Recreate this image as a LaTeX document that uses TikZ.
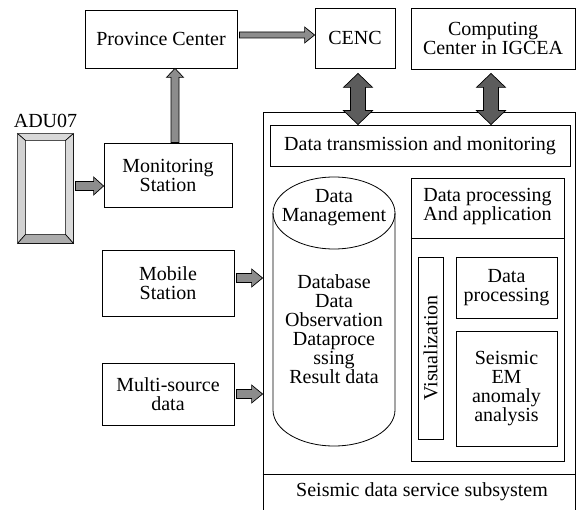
\documentclass[tikz,border=0pt]{standalone}
\usepackage{fontspec}
\setmainfont{Liberation Serif}
\usetikzlibrary{calc}

\definecolor{arrowgray}{gray}{0.55}
\definecolor{arrowdark}{gray}{0.36}

\tikzset{
	box/.style={draw, line width=0.8pt, align=center, inner sep=0pt},
	% a block arrow with one head: half shaft, half head, head length
	fat arrow/.style n args={3}{draw, line width=0.7pt, to path={
		let \p1=($(\tikztotarget)!#3!(\tikztostart)$) in
		($(\tikztostart)!#1!90:(\tikztotarget)$) -- ($(\p1)!#1!90:(\tikztotarget)$)
		-- ($(\p1)!#2!90:(\tikztotarget)$) -- (\tikztotarget)
		-- ($(\p1)!#2!-90:(\tikztotarget)$) -- ($(\p1)!#1!-90:(\tikztotarget)$)
		-- ($(\tikztostart)!#1!-90:(\tikztotarget)$) -- cycle}},
	% the same with a head at both ends
	fat double/.style n args={3}{draw, line width=0.7pt, to path={
		let \p1=($(\tikztotarget)!#3!(\tikztostart)$), \p2=($(\tikztostart)!#3!(\tikztotarget)$) in
		(\tikztostart) -- ($(\p2)!#2!90:(\tikztotarget)$) -- ($(\p2)!#1!90:(\tikztotarget)$)
		-- ($(\p1)!#1!90:(\tikztotarget)$) -- ($(\p1)!#2!90:(\tikztotarget)$) -- (\tikztotarget)
		-- ($(\p1)!#2!-90:(\tikztotarget)$) -- ($(\p1)!#1!-90:(\tikztotarget)$)
		-- ($(\p2)!#1!-90:(\tikztotarget)$) -- ($(\p2)!#2!-90:(\tikztotarget)$) -- cycle}},
}

\begin{document}
\begin{tikzpicture}[x=1pt, y=-1pt, every node/.style={font=\fontsize{20}{19}\selectfont}]
	\useasboundingbox (0,0) rectangle (577,510);
	% centres on top
	\node[box, minimum width=152, minimum height=58] (prov) at (161,39) {Province Center};
	\node[box, minimum width=80, minimum height=60] (cenc) at (355,38) {CENC};
	\node[box, minimum width=164, minimum height=61] (igcea) at (493,38.5) {Computing\\Center in IGCEA};
	% stations and sources on the left
	\node[box, minimum width=128, minimum height=64] (monit) at (168,175) {Monitoring\\Station};
	\node[box, minimum width=132, minimum height=66] (mobile) at (168,283) {Mobile\\Station};
	\node[box, minimum width=132, minimum height=62] (multi) at (168,394) {Multi-source\\data};
	% the ADU07 instrument, a bevelled frame
	\node[anchor=south] (adulabel) at (45.5,131) {ADU07};
	\node[draw, line width=0.8pt, minimum width=55, minimum height=109, inner sep=0pt] (adu) at (45.5,188.5) {};
	\coordinate (inw) at ([shift={(8,7)}]adu.north west);
	\coordinate (ine) at ([shift={(-8,7)}]adu.north east);
	\coordinate (ise) at ([shift={(-8,-9)}]adu.south east);
	\coordinate (isw) at ([shift={(8,-9)}]adu.south west);
	\filldraw[fill=gray!30, line width=0.6pt] (adu.north west) -- (adu.north east) -- (ine) -- (inw) -- cycle;
	\filldraw[fill=gray!35, line width=0.6pt] (adu.north west) -- (inw) -- (isw) -- (adu.south west) -- cycle;
	\filldraw[fill=gray!30, line width=0.6pt] (adu.north east) -- (ine) -- (ise) -- (adu.south east) -- cycle;
	\filldraw[fill=gray!65, line width=0.6pt] (adu.south west) -- (isw) -- (ise) -- (adu.south east) -- cycle;
	% the service subsystem
	\node[draw, line width=0.8pt, minimum width=312, minimum height=400, inner sep=0pt] (serv) at (419,312) {};
	\draw[line width=0.8pt] (serv.west |- 0,474) -- (serv.east |- 0,474);
	\node (servlabel) at (422,492) {Seismic data service subsystem};
	\node[box, minimum width=300, minimum height=41] (trans) at (420,145.5) {Data transmission and monitoring};
	% data management store
	\draw[line width=0.8pt, fill=white] (273,213) -- (273,410) arc[start angle=180, end angle=0, x radius=61, y radius=36] -- (395,213);
	\draw[line width=0.8pt] (334,213) ellipse [x radius=61, y radius=36];
	\node[align=center] (dmtitle) at (334,208) {Data\\Management};
	\node[align=center] (dmlist) at (334,329) {Database\\Data\\Observation\\Dataproce\\ssing\\Result data};
	% processing and application
	\node[draw, line width=0.8pt, minimum width=153, minimum height=283, inner sep=0pt] (appl) at (487.5,319.5) {};
	\draw[line width=0.8pt] (appl.west |- 0,238) -- (appl.east |- 0,238);
	\node[align=center] (appltitle) at (487.5,207) {Data processing\\And application};
	\node[box, rotate=90, minimum width=182, minimum height=25] (vis) at (430.5,348) {Visualization};
	\node[box, minimum width=101, minimum height=61] (dproc) at (506.5,287.5) {Data\\processing};
	\node[box, minimum width=101, minimum height=115] (seis) at (506.5,388.5) {Seismic\\EM\\anomaly\\analysis};
	% block arrows between the parts
	\draw[fat arrow={3pt}{8pt}{10pt}, fill=arrowgray] ([shift={(2,-4)}]prov.east) to ([yshift=3pt]cenc.west);
	\draw[fat arrow={4pt}{8.5pt}{9pt}, fill=arrowgray] ([xshift=7pt]monit.north) to ([xshift=7pt]monit.north |- prov.south);
	\draw[fat arrow={4.5pt}{9pt}{10pt}, fill=arrowgray] ([shift={(2,-2.5)}]adu.east) to ([yshift=-11pt]monit.west);
	\draw[fat arrow={4.5pt}{9pt}{11pt}, fill=arrowgray] ([shift={(2,-5)}]mobile.east) to ([yshift=5pt]mobile.east -| serv.west);
	\draw[fat arrow={4.5pt}{9pt}{11pt}, fill=arrowgray] ([xshift=2pt]multi.east) to (multi.east -| serv.west);
	\draw[fat double={7.5pt}{14.5pt}{14pt}, fill=arrowdark] ([shift={(3,5)}]cenc.south) to ([xshift=3pt]cenc.south |- trans.north);
	\draw[fat double={7.5pt}{14.5pt}{14pt}, fill=arrowdark] ([shift={(-2,4)}]igcea.south) to ([xshift=-2pt]igcea.south |- trans.north);
\end{tikzpicture}
\end{document}
